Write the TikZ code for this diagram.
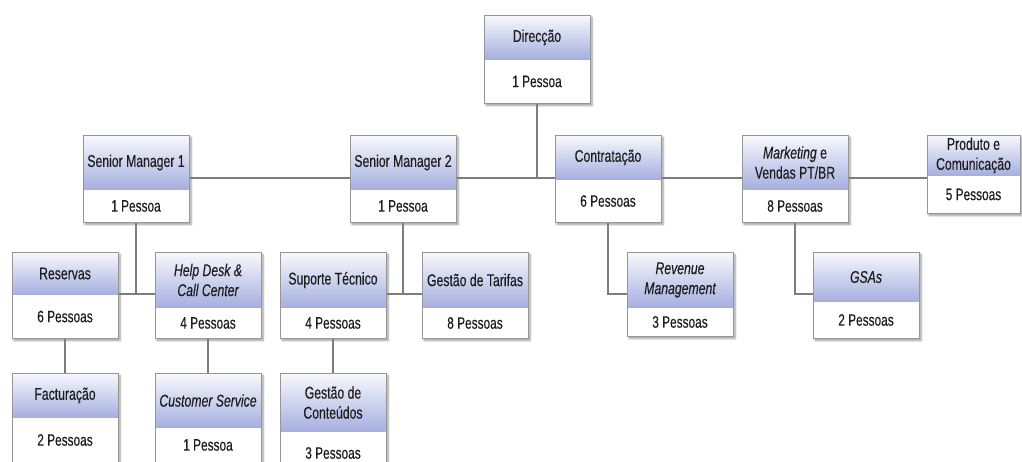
\documentclass[tikz,border=0pt]{standalone}
\usepackage{fontspec}
\setmainfont{Liberation Sans}[FakeStretch=0.72,FakeBold=0.3]
\usetikzlibrary{positioning,backgrounds,shadows.blur}

\definecolor{headtop}{RGB}{248,249,253}
\definecolor{headbot}{RGB}{164,174,223}
\definecolor{boxline}{RGB}{150,150,150}
\definecolor{linkgray}{RGB}{125,125,125}
\definecolor{txt}{RGB}{30,30,30}

\tikzset{
  unitttl/.style={top color=headtop, bottom color=headbot, minimum width=106pt,
    minimum height=#1, inner sep=1pt, outer sep=0pt, anchor=north west,
    align=center, text=txt, font=\fontsize{17}{20}\selectfont},
  unitcnt/.style={fill=white, minimum width=106pt, minimum height=#1,
    inner sep=1pt, outer sep=0pt, text=txt, font=\fontsize{16.5}{19}\selectfont},
  link/.style={draw=linkgray, line width=1.3pt},
  frame/.style={draw=boxline, line width=0.8pt},
  shadebox/.style={blur shadow={shadow xshift=2pt, shadow yshift=-2.5pt,
    shadow blur radius=2pt, shadow blur steps=6}}
}

\begin{document}
\begin{tikzpicture}[x=1pt,y=-1pt]
\useasboundingbox (0,0) rectangle (1022,461);
\clip (0,0) rectangle (1022,461);
% direction and first level
\node[unitttl=45pt] (dir-t) at (484,15) {Direcção};
\node[unitcnt=43pt, below=0pt of dir-t] (dir) {1 Pessoa};
\node[unitttl=55pt] (sm1-t) at (83,135) {Senior Manager 1};
\node[unitcnt=32pt, below=0pt of sm1-t] (sm1) {1 Pessoa};
\node[unitttl=55pt] (sm2-t) at (350,135) {Senior Manager 2};
\node[unitcnt=32pt, below=0pt of sm2-t] (sm2) {1 Pessoa};
\node[unitttl=45pt] (ctr-t) at (555,135) {Contratação};
\node[unitcnt=42pt, below=0pt of ctr-t] (ctr) {6 Pessoas};
\node[unitttl=55pt] (mkt-t) at (742,135) {\itshape Marketing\upshape{} e\\Vendas PT/BR};
\node[unitcnt=32pt, below=0pt of mkt-t] (mkt) {8 Pessoas};
\node[unitttl=41pt, minimum width=93pt] (prod-t) at (927,135) {Produto e\\Comunicação};
\node[unitcnt=37pt, minimum width=93pt, below=0pt of prod-t] (prod) {5 Pessoas};
% second level
\node[unitttl=43pt] (res-t) at (12,252) {Reservas};
\node[unitcnt=43pt, below=0pt of res-t] (res) {6 Pessoas};
\node[unitttl=56pt] (hlp-t) at (155,252) {\itshape Help Desk \&\\\itshape Call Center};
\node[unitcnt=30pt, below=0pt of hlp-t] (hlp) {4 Pessoas};
\node[unitttl=56pt] (sup-t) at (280,252) {Suporte Técnico};
\node[unitcnt=30pt, below=0pt of sup-t] (sup) {4 Pessoas};
\node[unitttl=56pt] (tar-t) at (422,252) {Gestão de Tarifas};
\node[unitcnt=30pt, below=0pt of tar-t] (tar) {8 Pessoas};
\node[unitttl=56pt] (rev-t) at (627,252) {\itshape Revenue\\\itshape Management};
\node[unitcnt=28pt, below=0pt of rev-t] (rev) {3 Pessoas};
\node[unitttl=50pt] (gsa-t) at (813,252) {\itshape GSAs};
\node[unitcnt=36pt, below=0pt of gsa-t] (gsa) {2 Pessoas};
% third level
\node[unitttl=45pt] (fac-t) at (12,373) {Facturação};
\node[unitcnt=44pt, below=0pt of fac-t] (fac) {2 Pessoas};
\node[unitttl=55pt] (cst-t) at (155,373) {\itshape Customer Service};
\node[unitcnt=34pt, below=0pt of cst-t] (cst) {1 Pessoa};
\node[unitttl=59pt] (cont-t) at (280,373) {Gestão de\\Conteúdos};
\node[unitcnt=42pt, below=0pt of cont-t] (cont) {3 Pessoas};

\begin{scope}[on background layer]
\foreach \u in {dir,sm1,sm2,ctr,mkt,prod,res,hlp,sup,tar,rev,gsa,fac,cst,cont}
  \path[shadebox] (\u-t.north west) rectangle (\u.south east);
\coordinate (bus) at (0,178);
\coordinate (lowbus) at (0,294);
\draw[link] (dir.south) -- (dir.south |- bus);
\draw[link] (sm1-t.east |- bus) -- (prod-t.west |- bus);
\draw[link] (sm1.south) -- (sm1.south |- lowbus);
\draw[link] (res-t.east |- lowbus) -- (hlp-t.west |- lowbus);
\draw[link] (sm2.south) -- (sm2.south |- lowbus);
\draw[link] (sup-t.east |- lowbus) -- (tar-t.west |- lowbus);
\draw[link] (ctr.south) |- (rev-t.west |- lowbus);
\draw[link] (mkt.south) |- (gsa-t.west |- lowbus);
\draw[link] (res.south) -- (fac-t.north);
\draw[link] (hlp.south) -- (cst-t.north);
\draw[link] (sup.south) -- (cont-t.north);
\end{scope}
\foreach \u in {dir,sm1,sm2,ctr,mkt,prod,res,hlp,sup,tar,rev,gsa,fac,cst,cont}
  \draw[frame] (\u-t.north west) rectangle (\u.south east);
\end{tikzpicture}
\end{document}
